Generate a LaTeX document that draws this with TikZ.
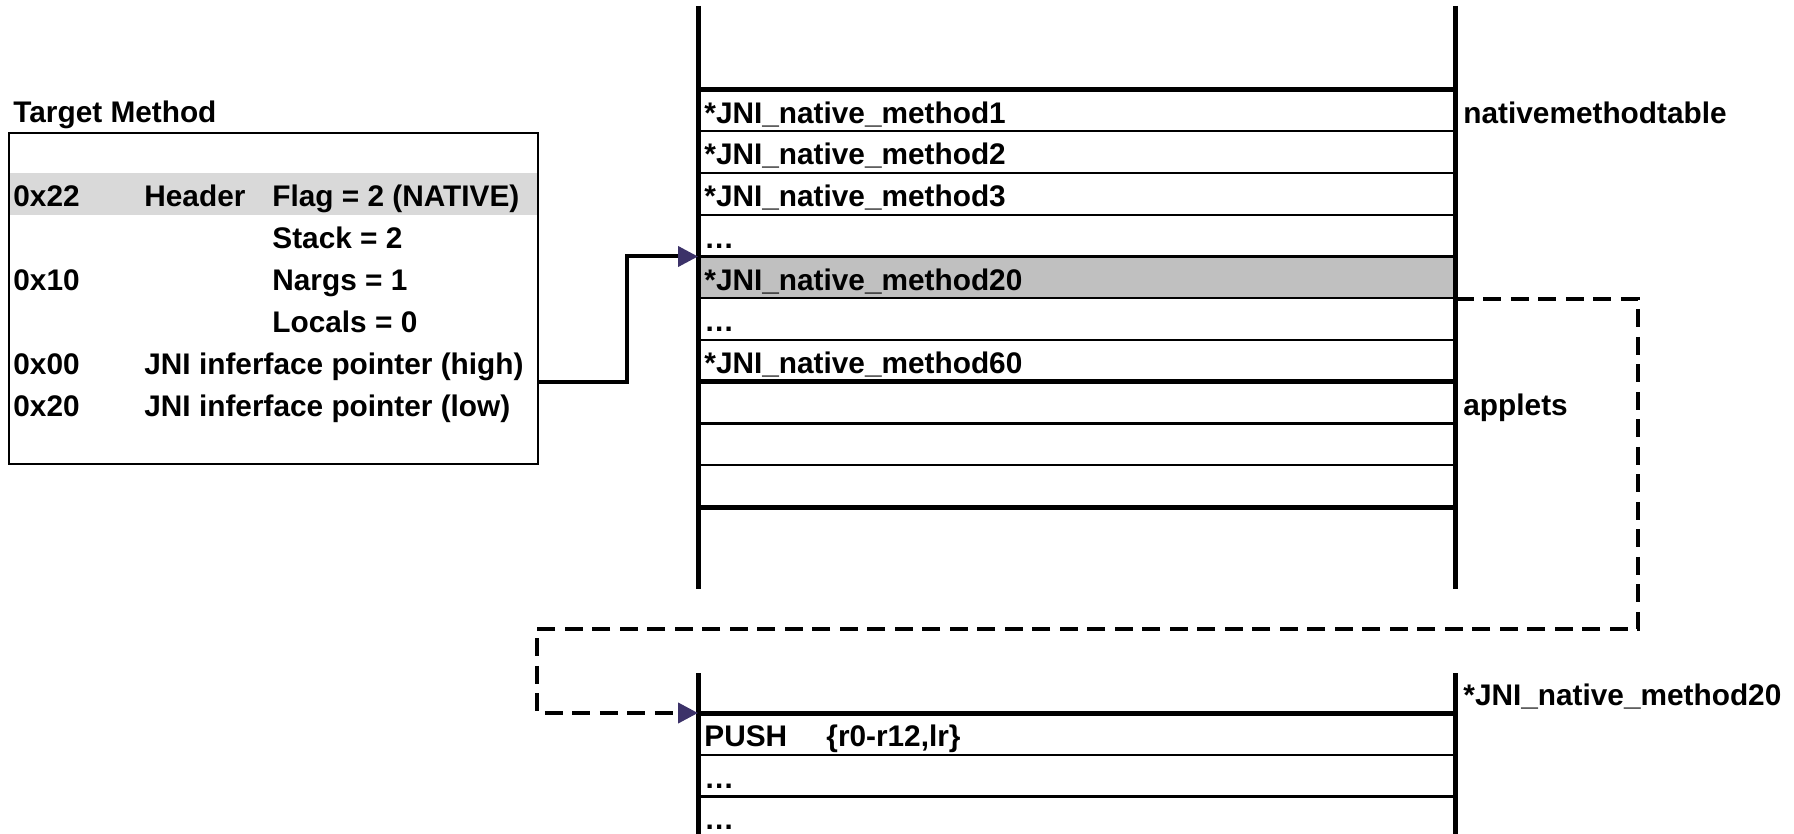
\documentclass[tikz,border=0pt]{standalone}
\usepackage{fontspec}
\setmainfont{Liberation Sans}
\usepackage{tikz}
\usetikzlibrary{arrows.meta, positioning}
\definecolor{arrowblue}{RGB}{60,50,105}
\definecolor{rowgrey}{RGB}{192,192,192}
\definecolor{headgrey}{RGB}{217,217,217}
\tikzset{
	cell/.style={
		anchor=west,
		inner sep=0pt,
		yshift=-2.5pt,
		text height=2ex,
		text depth=0.5ex,
		font=\fontsize{14.9}{17}\selectfont\bfseries
	},
	slot/.style={
		rectangle,
		anchor=north west,
		minimum width=378.5pt,
		minimum height=20.875pt,
		inner sep=0pt
	},
	bar/.style={line width=2.5pt},
	rowline/.style={line width=1.2pt},
	thickline/.style={line width=2.5pt},
	arrow/.style={line width=2pt, -{Triangle[length=10pt,width=10pt,color=arrowblue]}},
	dasharrow/.style={arrow, dash pattern=on 9pt off 4.75pt}
}

\begin{document}
\begin{tikzpicture}[x=0.5pt, y=-0.5pt]
	\useasboundingbox (0,0) rectangle (1794,834);

	% target method
	\node (title) [cell] at (13,110) {Target Method};
	\fill [headgrey] (8,173) rectangle (537,215);
	\node (target) [draw, line width=1pt, anchor=north west, minimum width=264.5pt, minimum height=165.5pt, inner sep=0pt] at (8,132) {};
	\node (a22) [cell] at (13,194) {0x22};
	\node (hdr) [cell] at (144,194) {Header};
	\node (flag) [cell] at (272,194) {Flag = 2 (NATIVE)};
	\node (stack) [cell] at (272,236) {Stack = 2};
	\node (a10) [cell] at (13,278) {0x10};
	\node (nargs) [cell] at (272,278) {Nargs = 1};
	\node (locals) [cell] at (272,320) {Locals = 0};
	\node (a00) [cell] at (13,362) {0x00};
	\node (high) [cell] at (144,362) {JNI inferface pointer (high)};
	\node (a20) [cell] at (13,404) {0x20};
	\node (low) [cell] at (144,404) {JNI inferface pointer (low)};
	\coordinate (ptr) at (537,382);

	% native method table
	\node (m20) [slot, fill=rowgrey] at (698,256.5) {};
	\foreach \k in {1,...,10}
		\draw [rowline] (698,89.5+\k*41.75) -- (1455,89.5+\k*41.75);
	\foreach \y in {89.5,381.75,507}
		\draw [thickline] (698,\y) -- (1455,\y);
	\draw [bar] (698,6) -- (698,589);
	\draw [bar] (1455,6) -- (1455,589);
	\node (m1) [cell] at (704,110.5) {*JNI\_native\_method1};
	\node (m2) [cell] at (704,152) {*JNI\_native\_method2};
	\node (m3) [cell] at (704,194) {*JNI\_native\_method3};
	\node (dots1) [cell] at (704,235.5) {\dots};
	\node (m20text) [cell] at (704,277.5) {*JNI\_native\_method20};
	\node (dots2) [cell] at (704,319) {\dots};
	\node (m60) [cell] at (704,361) {*JNI\_native\_method60};
	\node (nmt) [cell] at (1463,110.5) {nativemethodtable};
	\node (applets) [cell] at (1463,403) {applets};

	% native method 20 code
	\node (push) [slot] at (698,713) {};
	\draw [thickline] (698,713) -- (1455,713);
	\draw [rowline] (698,754.75) -- (1455,754.75);
	\draw [rowline] (698,796.5) -- (1455,796.5);
	\draw [bar] (698,673) -- (698,834);
	\draw [bar] (1455,673) -- (1455,834);
	\node (pushop) [cell] at (704,734) {PUSH};
	\node (pushreg) [cell] at (826,734) {\{r0-r12,lr\}};
	\node (dots3) [cell] at (704,775.5) {\dots};
	\node (dots4) [cell] at (704,817) {\dots};
	\node (m20name) [cell] at (1463,693) {*JNI\_native\_method20};

	\draw [arrow] (ptr) -- ++(90,0) |- (m20.north west);
	\draw [dasharrow] (m20.south east) -| (1638,629) -| (537,713) -- (push.north west);
\end{tikzpicture}
\end{document}
